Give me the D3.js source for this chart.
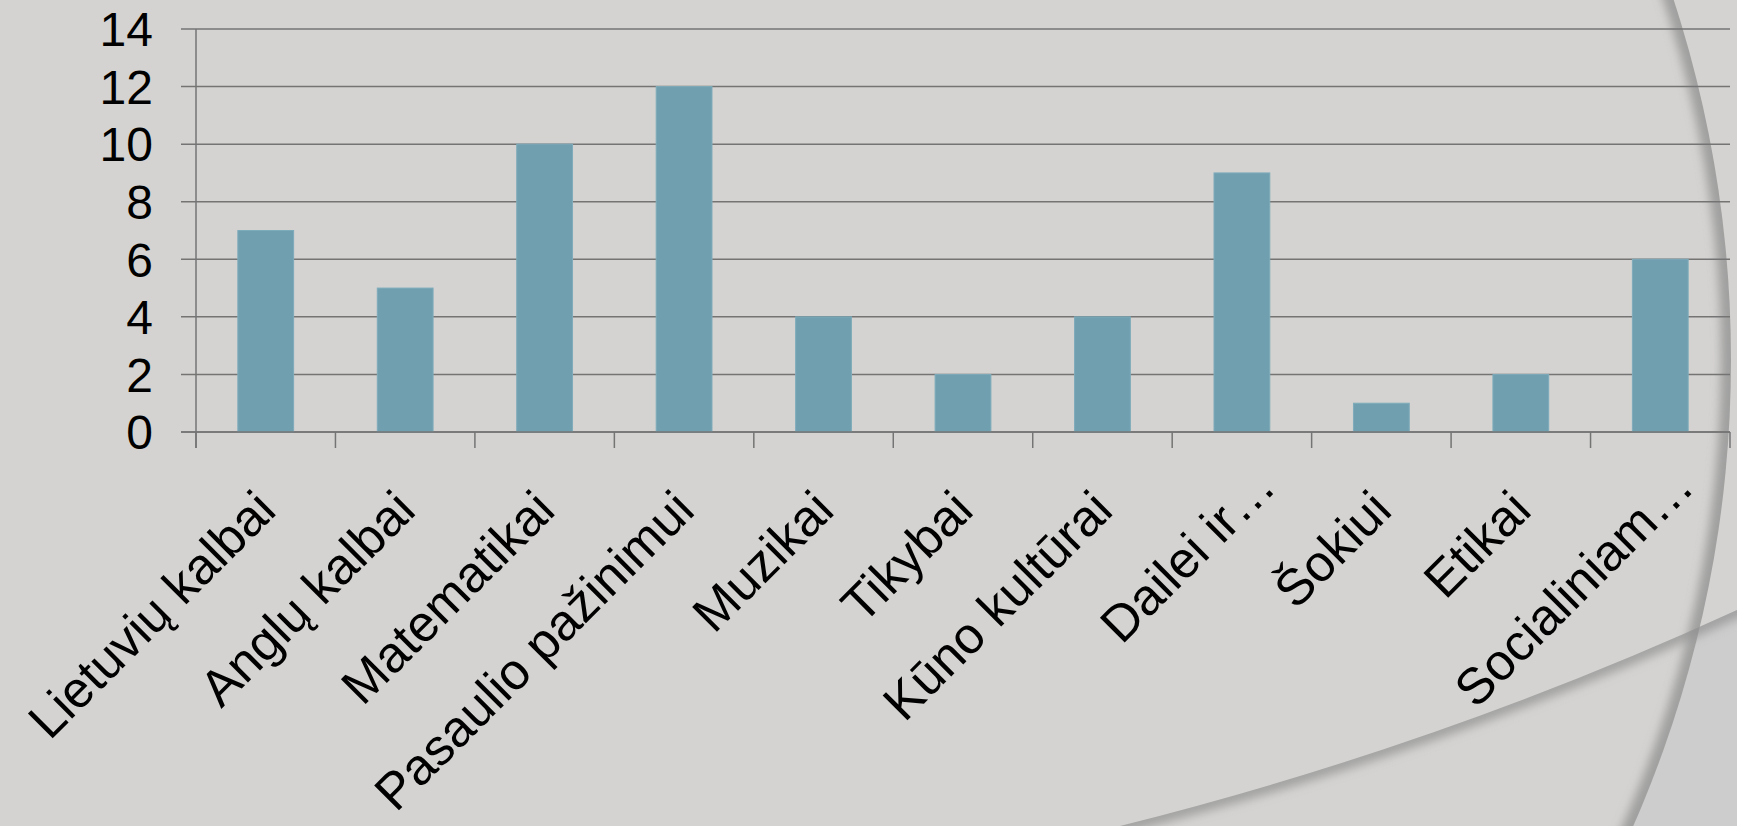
<!DOCTYPE html>
<html>
<head>
<meta charset="utf-8">
<script src="https://cdn.jsdelivr.net/npm/d3@7"></script>
<style>
  html, body { margin: 0; padding: 0; background: #d4d3d1; overflow: hidden; }
  svg { display: block; }
  text { font-family: "Liberation Sans", Arial, sans-serif; fill: #000; }
</style>
</head>
<body>
<svg id="chart" width="1737" height="826"></svg>
<script>
// ---- data ----
const categories = ["Lietuvių kalbai", "Anglų kalbai", "Matematikai", "Pasaulio pažinimui", "Muzikai", "Tikybai", "Kūno kultūrai", "Dailei ir…", "Šokiui", "Etikai", "Socialiniam…"];
const values = [7, 5, 10, 12, 4, 2, 4, 9, 1, 2, 6];
const yTicks = [0, 2, 4, 6, 8, 10, 12, 14];

const W = 1737, H = 826;
const svg = d3.select("#chart");
const defs = svg.append("defs");

// ---- background decoration (slide theme arcs) ----
const bg = "#d4d3d1";
svg.append("rect").attr("width", W).attr("height", H).attr("fill", bg);

const cx = 571, cy = 360, R = 1160;
const circlePath = `M${cx - R},${cy} a${R},${R} 0 1,0 ${2 * R},0 a${R},${R} 0 1,0 ${-2 * R},0 Z`;
const belowDiag = "M1000,900 L1120,826 Q1443,745 1737,610 L1800,580 L1800,900 Z";
const diagCurve = "M1000,860 L1120,826 Q1443,745 1737,610 L1800,581";

defs.append("filter").attr("id", "blur").attr("x", "-10%").attr("y", "-10%").attr("width", "120%").attr("height", "120%")
  .append("feGaussianBlur").attr("stdDeviation", 5);
defs.append("clipPath").attr("id", "insideCircle").append("path").attr("d", circlePath);
defs.append("clipPath").attr("id", "outsideCircle").append("path")
  .attr("d", `M-10,-10 H${W + 10} V${H + 10} H-10 Z ` + circlePath).attr("clip-rule", "evenodd");
defs.append("clipPath").attr("id", "belowDiagClip").append("path").attr("d", belowDiag);

// darker lower-right region
svg.append("path").attr("d", belowDiag).attr("fill", "#cdcdcd").attr("clip-path", "url(#outsideCircle)");

// diagonal arc shadow (below the line)
svg.append("g").attr("clip-path", "url(#belowDiagClip)")
  .append("path").attr("d", diagCurve).attr("fill", "none")
  .attr("stroke", "#8f8f8f").attr("stroke-width", 16).attr("stroke-opacity", 0.7)
  .attr("filter", "url(#blur)");

// vertical arc shadow (inside circle)
svg.append("g").attr("clip-path", "url(#insideCircle)")
  .append("path").attr("d", circlePath).attr("fill", "none")
  .attr("stroke", "#8f8f8f").attr("stroke-width", 20).attr("stroke-opacity", 0.75)
  .attr("filter", "url(#blur)");

// ---- chart ----
const plotLeft = 196, plotRight = 1730, plotTop = 29, plotBottom = 432;

const x = d3.scaleBand().domain(categories).range([plotLeft, plotRight])
  .paddingInner(0.6).paddingOuter(0.3);
const y = d3.scaleLinear().domain([0, 14]).range([plotBottom, plotTop]);

const lineColor = "#747474";

// gridlines + y tick marks
svg.append("g").selectAll("line.grid").data(yTicks).join("line")
  .attr("class", "grid")
  .attr("x1", plotLeft - 15).attr("x2", plotRight)
  .attr("y1", d => y(d)).attr("y2", d => y(d))
  .attr("stroke", lineColor).attr("stroke-width", 1.5);

// y tick labels
svg.append("g").selectAll("text").data(yTicks).join("text")
  .attr("x", 153).attr("y", d => y(d))
  .attr("text-anchor", "end").attr("dy", "0.36em")
  .attr("font-size", 48)
  .text(d => d);

// bars
svg.append("g").selectAll("rect").data(categories).join("rect")
  .attr("x", d => x(d)).attr("width", x.bandwidth())
  .attr("y", (d, i) => y(values[i])).attr("height", (d, i) => y(0) - y(values[i]))
  .attr("fill", "#70a0b0").attr("stroke", "#7eabba").attr("stroke-width", 1);

// axis lines
svg.append("line").attr("x1", plotLeft).attr("x2", plotLeft)
  .attr("y1", plotTop).attr("y2", plotBottom + 16)
  .attr("stroke", lineColor).attr("stroke-width", 1.5);
svg.append("line").attr("x1", plotLeft - 15).attr("x2", plotRight)
  .attr("y1", plotBottom).attr("y2", plotBottom)
  .attr("stroke", lineColor).attr("stroke-width", 1.5);

// x tick marks at band boundaries
const boundaries = d3.range(categories.length + 1).map(i => plotLeft + i * x.step());
svg.append("g").selectAll("line").data(boundaries).join("line")
  .attr("x1", d => d).attr("x2", d => d)
  .attr("y1", plotBottom).attr("y2", plotBottom + 16)
  .attr("stroke", lineColor).attr("stroke-width", 1.5);

// x labels rotated -45
svg.append("g").selectAll("text").data(categories).join("text")
  .attr("transform", d => `translate(${x(d) + x.bandwidth() / 2},500) rotate(-45)`)
  .attr("text-anchor", "end")
  .attr("dy", "0.35em")
  .attr("dx", d => d.endsWith("…") ? "0.65em" : 0)
  .attr("font-size", 51)
  .text(d => d);
</script>
</body>
</html>
